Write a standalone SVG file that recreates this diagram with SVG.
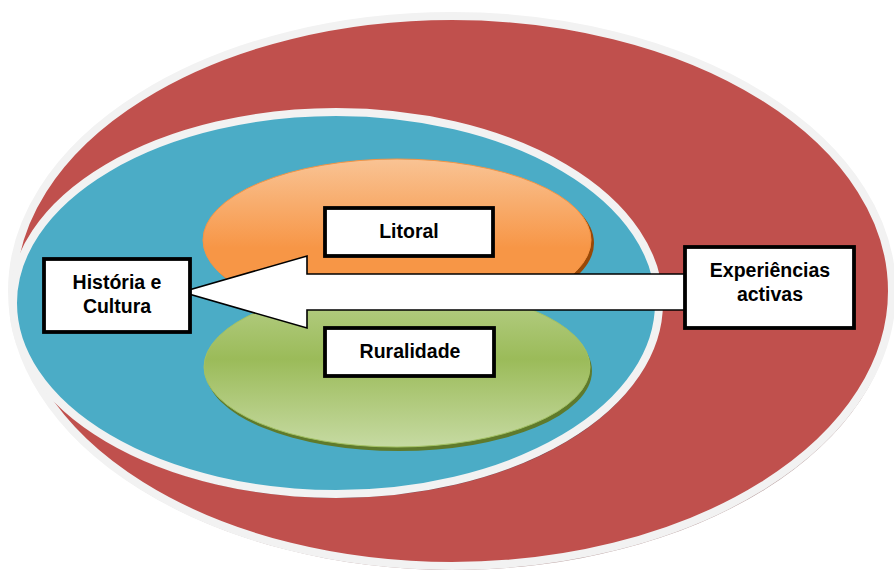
<svg xmlns="http://www.w3.org/2000/svg" width="894" height="572" viewBox="0 0 894 572">
  <style>
    .ring { stroke: #f2f2f2; stroke-width: 8; }
    .box { fill: #ffffff; stroke: #000000; stroke-width: 3.8; }
    .label { font-family: "Liberation Sans", Arial, sans-serif; font-weight: bold; font-size: 19.5px; fill: #000000; text-anchor: middle; }
    .arrow { fill: #ffffff; stroke: #000000; stroke-width: 1.6; stroke-linejoin: miter; }
  </style>
  <defs>
    <linearGradient id="gOrange" x1="0" y1="0" x2="0" y2="1">
      <stop offset="0" stop-color="#f9c394"/>
      <stop offset="0.55" stop-color="#f79646"/>
      <stop offset="1" stop-color="#f79646"/>
    </linearGradient>
    <linearGradient id="gGreen" x1="0" y1="0" x2="0" y2="1">
      <stop offset="0" stop-color="#b9d18c"/>
      <stop offset="0.45" stop-color="#9bbb59"/>
      <stop offset="1" stop-color="#c6daa2"/>
    </linearGradient>
  </defs>

  <!-- outer ring -->
  <g id="outer">
    <ellipse cx="453" cy="295" rx="441" ry="275" fill="#7a4a4a" opacity="0.55"/>
    <ellipse class="ring" cx="452" cy="291" rx="440" ry="275" fill="#c0504d"/>
  </g>

  <!-- middle ring -->
  <g id="middle">
    <ellipse cx="337" cy="307" rx="324" ry="191" fill="#3e3e52" opacity="0.6"/>
    <ellipse class="ring" cx="336" cy="303" rx="323" ry="191" fill="#4bacc6"/>
  </g>

  <!-- upper inner disc -->
  <g id="orange">
    <ellipse cx="400" cy="243" rx="194" ry="81" fill="#984807"/>
    <ellipse cx="397" cy="240" rx="194" ry="81" fill="url(#gOrange)" stroke="#f59443" stroke-width="1"/>
  </g>

  <!-- lower inner disc -->
  <g id="green">
    <ellipse cx="399" cy="371" rx="193" ry="80" fill="#5f7a2c"/>
    <ellipse cx="397" cy="367" rx="193" ry="80" fill="url(#gGreen)" stroke="#a3c263" stroke-width="1"/>
  </g>

  <!-- connectors -->
  <g id="connectors">
    <polygon class="arrow" points="182,292 307,256 307,274 686,274 686,310 307,310 307,328"/>
  </g>

  <g id="litoral">
    <rect class="box" x="325" y="208" width="168" height="48"/>
    <text class="label" x="409" y="238">Litoral</text>
  </g>

  <g id="ruralidade">
    <rect class="box" x="325" y="328" width="169" height="48"/>
    <text class="label" x="410" y="358">Ruralidade</text>
  </g>

  <g id="historia">
    <rect class="box" x="44" y="259" width="146" height="73"/>
    <text class="label" x="117" y="289">História e</text>
    <text class="label" x="117" y="313">Cultura</text>
  </g>

  <g id="experiencias">
    <rect class="box" x="685" y="247" width="169" height="81"/>
    <text class="label" x="770" y="277">Experiências</text>
    <text class="label" x="770" y="301">activas</text>
  </g>
</svg>
